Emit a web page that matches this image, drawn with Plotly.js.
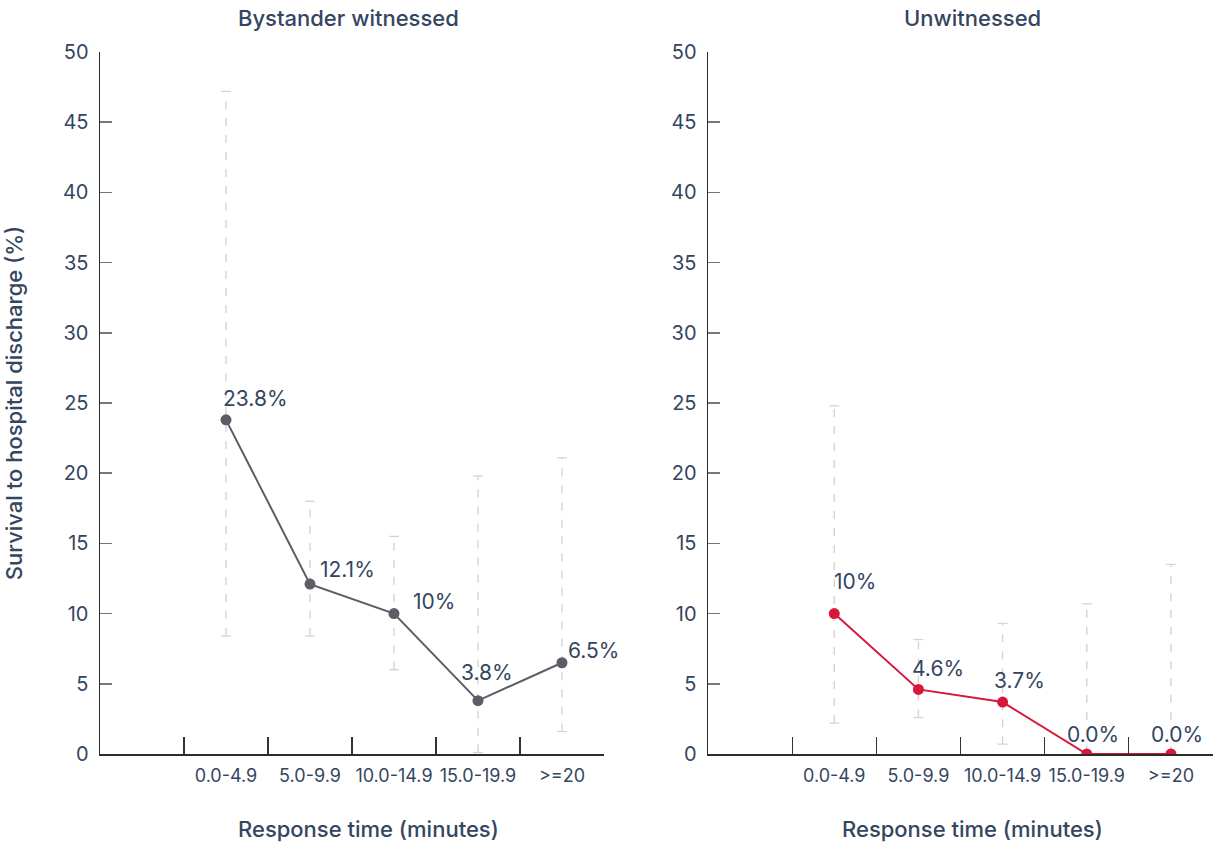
<!DOCTYPE html>
<html>
<head>
<meta charset="utf-8">
<script src="https://cdn.plot.ly/plotly-3.0.1.min.js"></script>
<style>
  html, body { margin: 0; padding: 0; background: #ffffff; }
  #chart { width: 1214px; height: 843px; }
</style>
</head>
<body>
<div id="chart"></div>
<script>
// Response-time categories (minutes)
const categories = ['0.0-4.9', '5.0-9.9', '10.0-14.9', '15.0-19.9', '>=20'];

// Bystander-witnessed arrests: survival rate and confidence interval
const witnessedRate = [23.8, 12.1, 10, 3.8, 6.5];
const witnessedLow = [8.4, 8.4, 6.0, 0.1, 1.6];
const witnessedHigh = [47.2, 18.0, 15.5, 19.8, 21.1];
const witnessedLabels = ['23.8%', '12.1%', '10%', '3.8%', '6.5%'];

// Unwitnessed arrests: survival rate and confidence interval
const unwitnessedRate = [10, 4.6, 3.7, 0.0, 0.0];
const unwitnessedLow = [2.2, 2.6, 0.7, 0.0, 0.0];
const unwitnessedHigh = [24.8, 8.15, 9.3, 10.7, 13.5];
const unwitnessedLabels = ['10%', '4.6%', '3.7%', '0.0%', '0.0%'];

const yTickValues = [0, 5, 10, 15, 20, 25, 30, 35, 40, 45, 50];

// Pixel offsets of the value labels from their points
const witnessedLabelShift = [[30, 21], [38, 15], [40, 12], [9, 28], [32, 12]];
const unwitnessedLabelShift = [[21, 32], [20, 21], [17, 22], [6, 20], [6, 20]];

const FONT = 'Inter, "Noto Sans", sans-serif';
const TEXT = '#34465f';
const BAR_COLOR = '#d4d4d4';

// One dashed segment per category, separated by gaps
function intervalTrace(low, high, xa, ya) {
  const xs = [], ys = [];
  categories.forEach((c, i) => {
    xs.push(c, c, null);
    ys.push(low[i], high[i], null);
  });
  return {
    x: xs, y: ys, xaxis: xa, yaxis: ya,
    type: 'scatter', mode: 'lines+markers',
    connectgaps: false,
    line: { color: BAR_COLOR, width: 1.4, dash: '8px,9px' },
    marker: { symbol: 'line-ew', size: 7, color: BAR_COLOR,
              line: { color: BAR_COLOR, width: 1.3 } },
    hoverinfo: 'skip', showlegend: false
  };
}

function rateTrace(rate, color, size, xa, ya) {
  return {
    x: categories, y: rate, xaxis: xa, yaxis: ya,
    type: 'scatter', mode: 'lines+markers',
    line: { color: color, width: 2 },
    marker: { color: color, size: size },
    showlegend: false
  };
}

function labelAnnotations(rate, labels, shifts, xref, yref) {
  return categories.map((c, i) => ({
    x: c, y: rate[i], xref: xref, yref: yref,
    text: labels[i], showarrow: false,
    xanchor: 'center', yanchor: 'middle',
    xshift: shifts[i][0], yshift: shifts[i][1],
    font: { family: FONT, size: 21, color: TEXT }
  }));
}

const data = [
  intervalTrace(witnessedLow, witnessedHigh, 'x', 'y'),
  intervalTrace(unwitnessedLow, unwitnessedHigh, 'x2', 'y2'),
  rateTrace(witnessedRate, '#5b5e66', 11, 'x', 'y'),
  rateTrace(unwitnessedRate, '#d8173b', 11, 'x2', 'y2')
];

function xAxis(domain, anchor) {
  return {
    domain: domain, anchor: anchor,
    type: 'category', categoryorder: 'array', categoryarray: categories,
    range: [-1.5, 4.5],
    tickson: 'boundaries', ticks: 'inside', ticklen: 17, tickwidth: 1.2, tickcolor: '#333333',
    showline: true, linecolor: '#2b2b2b', linewidth: 1.5,
    showgrid: false, zeroline: false,
    tickangle: 0,
    ticklabelstandoff: 5,
    tickfont: { family: FONT, size: 18, color: TEXT },
    fixedrange: true
  };
}

function yAxis(anchor) {
  return {
    anchor: anchor, range: [0, 50],
    tickmode: 'array', tickvals: yTickValues,
    ticks: 'inside', ticklen: 12, tickwidth: 1.5, tickcolor: '#777777',
    showline: true, linecolor: '#2b2b2b', linewidth: 1.5,
    showgrid: false, zeroline: false,
    ticklabelstandoff: 6,
    tickfont: { family: FONT, size: 20, color: TEXT },
    fixedrange: true
  };
}

const titleFont = { family: FONT, size: 22, color: TEXT, weight: 500 };

const layout = {
  width: 1214, height: 843,
  margin: { l: 100, r: 1, t: 52, b: 89 },
  paper_bgcolor: '#ffffff', plot_bgcolor: '#ffffff',
  showlegend: false,
  xaxis: xAxis([0, 0.4528], 'y'),
  yaxis: Object.assign(yAxis('x'), {
    title: { text: 'Survival to hospital discharge (%)', font: titleFont, standoff: 34 }
  }),
  xaxis2: xAxis([0.5463, 1], 'y2'),
  yaxis2: yAxis('x2'),
  annotations: [
    { text: 'Bystander witnessed', xref: 'paper', yref: 'paper', x: 0.2237, y: 1.0484,
      xanchor: 'center', yanchor: 'middle', showarrow: false, font: titleFont },
    { text: 'Unwitnessed', xref: 'paper', yref: 'paper', x: 0.7835, y: 1.0484,
      xanchor: 'center', yanchor: 'middle', showarrow: false, font: titleFont },
    { text: 'Response time (minutes)', xref: 'paper', yref: 'paper', x: 0.2408, y: -0.1068,
      xanchor: 'center', yanchor: 'middle', showarrow: false, font: titleFont },
    { text: 'Response time (minutes)', xref: 'paper', yref: 'paper', x: 0.7835, y: -0.1068,
      xanchor: 'center', yanchor: 'middle', showarrow: false, font: titleFont }
  ]
    .concat(labelAnnotations(witnessedRate, witnessedLabels, witnessedLabelShift, 'x', 'y'))
    .concat(labelAnnotations(unwitnessedRate, unwitnessedLabels, unwitnessedLabelShift, 'x2', 'y2'))
};

Plotly.newPlot('chart', data, layout, { displayModeBar: false, staticPlot: true });
</script>
</body>
</html>
